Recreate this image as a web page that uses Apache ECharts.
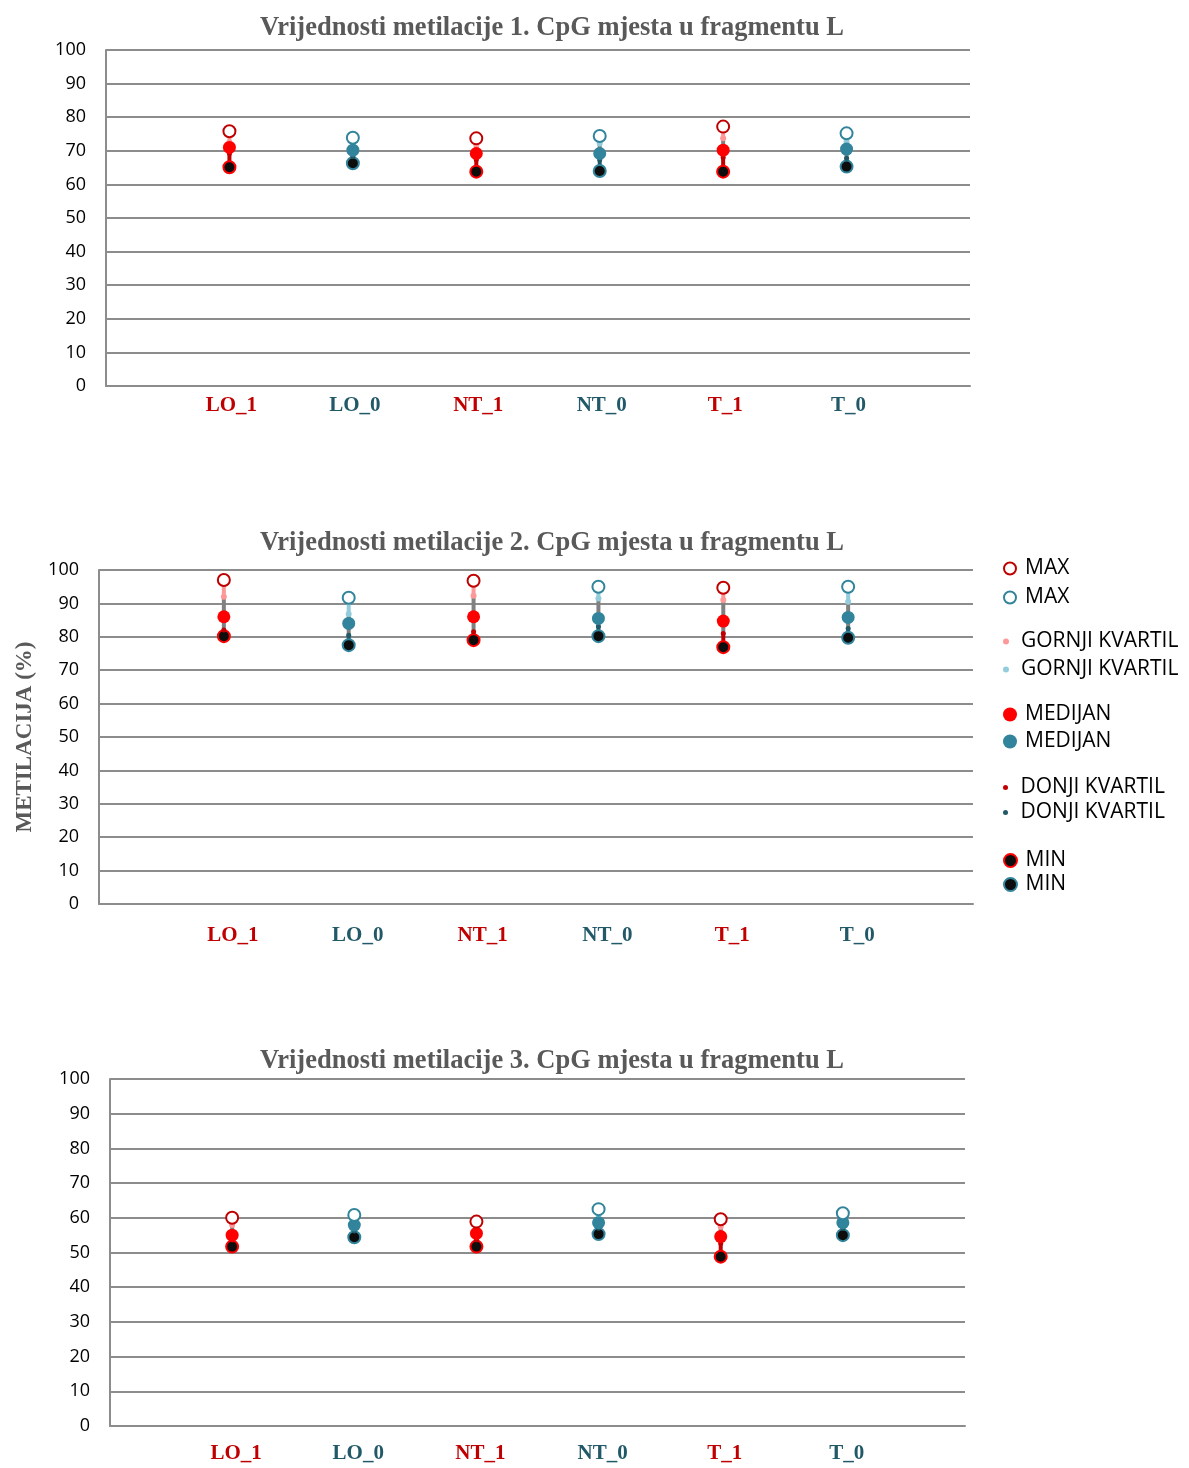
<!DOCTYPE html>
<html>
<head>
<meta charset="utf-8">
<script src="https://cdn.jsdelivr.net/npm/echarts@6/dist/echarts.min.js"></script>
<style>html,body{margin:0;padding:0;background:#fff;}#c{width:1189px;height:1468px;}</style>
</head>
<body>
<div id="c"></div>
<script>
const categories = ['LO_1', 'LO_0', 'NT_1', 'NT_0', 'T_1', 'T_0'];
const titles = [
  'Vrijednosti metilacije 1. CpG mjesta u fragmentu L',
  'Vrijednosti metilacije 2. CpG mjesta u fragmentu L',
  'Vrijednosti metilacije 3. CpG mjesta u fragmentu L'
];
const yTicks = [0, 10, 20, 30, 40, 50, 60, 70, 80, 90, 100];
const statNames = ['MAX', 'GORNJI KVARTIL', 'MEDIJAN', 'DONJI KVARTIL', 'MIN'];

// Chart 1
const c1Max = [75.8, 73.9, 73.7, 74.4, 77.2, 75.2];
const c1Q3  = [72.5, 72.2, 71.7, 72.2, 73.7, 72.7];
const c1Med = [71.0, 70.2, 69.2, 69.2, 70.2, 70.5];
const c1Q1  = [69.2, 68.3, 67.3, 67.3, 68.0, 67.8];
const c1Min = [65.1, 66.3, 63.8, 64.0, 63.8, 65.3];
// Chart 2
const c2Max = [97.0, 91.7, 96.8, 95.0, 94.7, 95.0];
const c2Q3  = [92.0, 86.8, 92.3, 91.5, 91.0, 90.5];
const c2Med = [86.0, 84.0, 86.0, 85.5, 84.7, 85.8];
const c2Q1  = [82.0, 80.5, 81.5, 83.1, 81.0, 82.5];
const c2Min = [80.2, 77.5, 79.0, 80.2, 76.9, 79.7];
// Chart 3
const c3Max = [60.0, 60.8, 58.9, 62.5, 59.6, 61.3];
const c3Q3  = [57.9, 59.8, 57.9, 60.8, 57.4, 60.3];
const c3Med = [55.0, 57.9, 55.5, 58.6, 54.6, 58.6];
const c3Q1  = [53.6, 56.2, 53.6, 57.0, 52.6, 57.0];
const c3Min = [51.7, 54.4, 51.7, 55.3, 48.8, 55.0];

const charts = [
  [c1Max, c1Q3, c1Med, c1Q1, c1Min],
  [c2Max, c2Q3, c2Med, c2Q1, c2Min],
  [c3Max, c3Q3, c3Med, c3Q1, c3Min]
];

// ---- styling ----
const grids = [
  {left: 106, right: 219, top: 50, height: 336},
  {left: 99, right: 216, top: 570, height: 334},
  {left: 110, right: 224, top: 1079, height: 347}
];
const titleTops = [10, 525, 1043];
const labelMargins = [9, 21, 17];
const labelPadLeft = [4, 18, 8];
const gridColor = '#8c8c8c';
const serif = '"Liberation Serif", "Times New Roman", serif';
const sans = '"Open Sans", "Noto Sans", sans-serif';

const groupColors = {
  r: {max: '#C00000', q3: '#FF9999', med: '#FF0000', q1: '#C00000', minB: '#FF0000'},
  t: {max: '#31849B', q3: '#93CDDD', med: '#31849B', q1: '#215968', minB: '#31849B'}
};
const groupOf = k => (k % 2 === 0 ? 'r' : 't');

const xData = [''].concat(categories, ['']);

const option = {
  backgroundColor: '#fff',
  animation: false,
  title: titles.map((t, i) => ({
    text: t, left: 547, top: titleTops[i], textAlign: 'center',
    textStyle: {fontFamily: serif, fontWeight: 'bold', fontSize: 26.5, color: '#595959'}
  })),
  grid: grids,
  xAxis: grids.map((g, i) => ({
    type: 'category', gridIndex: i, data: xData, boundaryGap: false,
    axisLine: {show: true, lineStyle: {color: gridColor, width: 2}},
    axisTick: {show: false},
    splitLine: {show: false},
    axisLabel: {
      interval: 0, margin: labelMargins[i], padding: [0, 0, 0, labelPadLeft[i]],
      fontFamily: serif, fontWeight: 'bold', fontSize: 21,
      color: v => (v.endsWith('_1') ? '#C00000' : '#215968')
    }
  })),
  yAxis: grids.map((g, i) => ({
    type: 'value', gridIndex: i, min: yTicks[0], max: yTicks[yTicks.length - 1], interval: 10,
    name: i === 1 ? 'METILACIJA (%)' : '',
    nameLocation: 'middle', nameGap: 62, nameRotate: 90,
    nameTextStyle: {fontFamily: serif, fontWeight: 'bold', fontSize: 23, color: '#595959'},
    axisLine: {show: true, lineStyle: {color: gridColor, width: 2}},
    axisTick: {show: false},
    splitLine: {show: true, lineStyle: {color: gridColor, width: 2}},
    axisLabel: {margin: 20, fontFamily: sans, fontSize: 18, color: '#000'}
  })),
  legend: [],
  series: []
};

// legends (5 groups, 2 items each)
const legendTops = [558, 631, 704, 777, 850];
const legendGaps = [8, 7, 6, 4, 3];
const legendIconH = [12, 6, 14, 5, 13];
statNames.forEach((s, j) => {
  option.legend.push({
    orient: 'vertical', left: 1003, top: legendTops[j], itemGap: legendGaps[j],
    itemWidth: 20, itemHeight: legendIconH[j], padding: 0,
    data: [s + '|r', s + '|t'],
    formatter: n => n.split('|')[0],
    textStyle: {fontFamily: sans, fontSize: 21, color: '#000'}
  });
});

// segments (custom) + markers (scatter)
charts.forEach((arrs, ci) => {
  const segData = categories.map((c, k) => [k + 1, arrs[0][k], arrs[1][k], arrs[2][k], arrs[3][k], arrs[4][k], k % 2]);
  option.series.push({
    type: 'custom', xAxisIndex: ci, yAxisIndex: ci, z: 1, silent: true,
    encode: {x: 0, y: [1, 2, 3, 4, 5]},
    data: segData,
    renderItem: (params, api) => {
      const x = api.value(0);
      const g = api.value(6) === 0 ? 'r' : 't';
      const p = [1, 2, 3, 4, 5].map(j => api.coord([x, api.value(j)]));
      const cols = [groupColors[g].q3, '#808080', '#808080', groupColors[g].q1];
      return {
        type: 'group',
        children: cols.map((col, s) => ({
          type: 'line',
          shape: {x1: p[s][0], y1: p[s][1], x2: p[s + 1][0], y2: p[s + 1][1]},
          style: {stroke: col, lineWidth: 4}
        }))
      };
    }
  });
  const order = [4, 3, 1, 2, 0];
  order.forEach(j => {
    ['r', 't'].forEach(g => {
      const gc = groupColors[g];
      const data = [];
      categories.forEach((c, k) => { if (groupOf(k) === g) data.push([k + 1, arrs[j][k]]); });
      let sym = 'circle', size = 6, itemStyle = {};
      if (j === 0) { sym = 'emptyCircle'; size = 12; itemStyle = {color: gc.max, borderColor: gc.max, borderWidth: 2}; }
      if (j === 1) { size = 6; itemStyle = {color: gc.q3}; }
      if (j === 2) { size = 13; itemStyle = {color: gc.med}; }
      if (j === 3) { size = 5; itemStyle = {color: gc.q1}; }
      if (j === 4) { size = 12; itemStyle = {color: '#0D0D0D', borderColor: gc.minB, borderWidth: 2}; }
      itemStyle.opacity = 1;
      option.series.push({
        name: statNames[j] + '|' + g, type: 'scatter', xAxisIndex: ci, yAxisIndex: ci,
        symbol: sym, symbolSize: size, itemStyle: itemStyle, z: 3 + order.indexOf(j),
        data: data
      });
    });
  });
});

const chart = echarts.init(document.getElementById('c'), null, {renderer: 'canvas'});
chart.setOption(option);
</script>
</body>
</html>
